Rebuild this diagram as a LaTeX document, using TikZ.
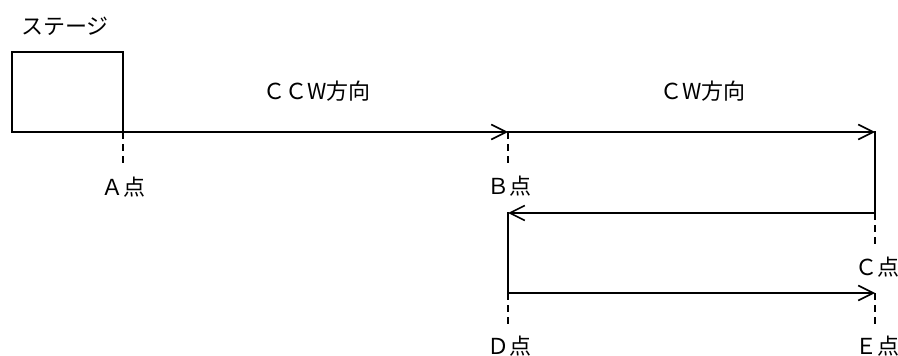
\documentclass[tikz,border=0pt]{standalone}
\usepackage{fontspec}
\setmainfont{Noto Sans CJK JP}
\usetikzlibrary{arrows.meta}
\tikzset{
  track/.style={line width=2pt, line cap=rect},
  move/.style={track, -{Straight Barb[length=15pt, width=15pt, line width=1.6pt]}},
  marker/.style={line width=1.6pt, dash pattern=on 7pt off 5pt},
  lbl/.style={font=\fontsize{22}{26}\selectfont, inner sep=0pt},
  stagebox/.style={draw, line width=2pt, minimum width=111pt, minimum height=80pt, inner sep=0pt}
}
\begin{document}
\begin{tikzpicture}[x=1pt, y=-1pt]
  \useasboundingbox (0,0) rectangle (898,356);

  % stage block and its caption
  \node[stagebox] (stage) at (67.5,92) {};
  \node[lbl] (stagelbl) at (65,26) {ステージ};

  % reference points along the path
  \coordinate (A) at (123,132);
  \coordinate (B) at (508,132);
  \coordinate (R) at (875,132);
  \coordinate (C) at (875,213);
  \coordinate (Cd) at (508,213);
  \coordinate (D) at (508,293);
  \coordinate (E) at (875,293);

  % dashed drop lines to the point labels
  \coordinate (Aend) at (123,167);
  \coordinate (Bend) at (508,167);
  \coordinate (Cend) at (875,247);
  \coordinate (Dend) at (508,327);
  \coordinate (Eend) at (875,327);
  \draw[marker] (A) -- (Aend);
  \draw[marker] (B) -- (Bend);
  \draw[marker] (C) -- (Cend);
  \draw[marker] (D) -- (Dend);
  \draw[marker] (E) -- (Eend);

  % travel path
  \draw[move] (A) -- (B);
  \draw[move] (B) -- (R);
  \draw[track] (R) -- (C);
  \draw[move] (C) -- (Cd);
  \draw[track] (Cd) -- (D);
  \draw[move] (D) -- (E);

  % direction captions
  \node[lbl] (ccw) at (317,91) {ＣＣW方向};
  \node[lbl] (cw) at (703,91) {ＣW方向};

  % point labels
  \node[lbl] (Albl) at (123,187) {Ａ点};
  \node[lbl] (Blbl) at (509,186) {Ｂ点};
  \node[lbl] (Clbl) at (877,267) {Ｃ点};
  \node[lbl] (Dlbl) at (509,346) {Ｄ点};
  \node[lbl] (Elbl) at (877,346) {Ｅ点};
\end{tikzpicture}
\end{document}
